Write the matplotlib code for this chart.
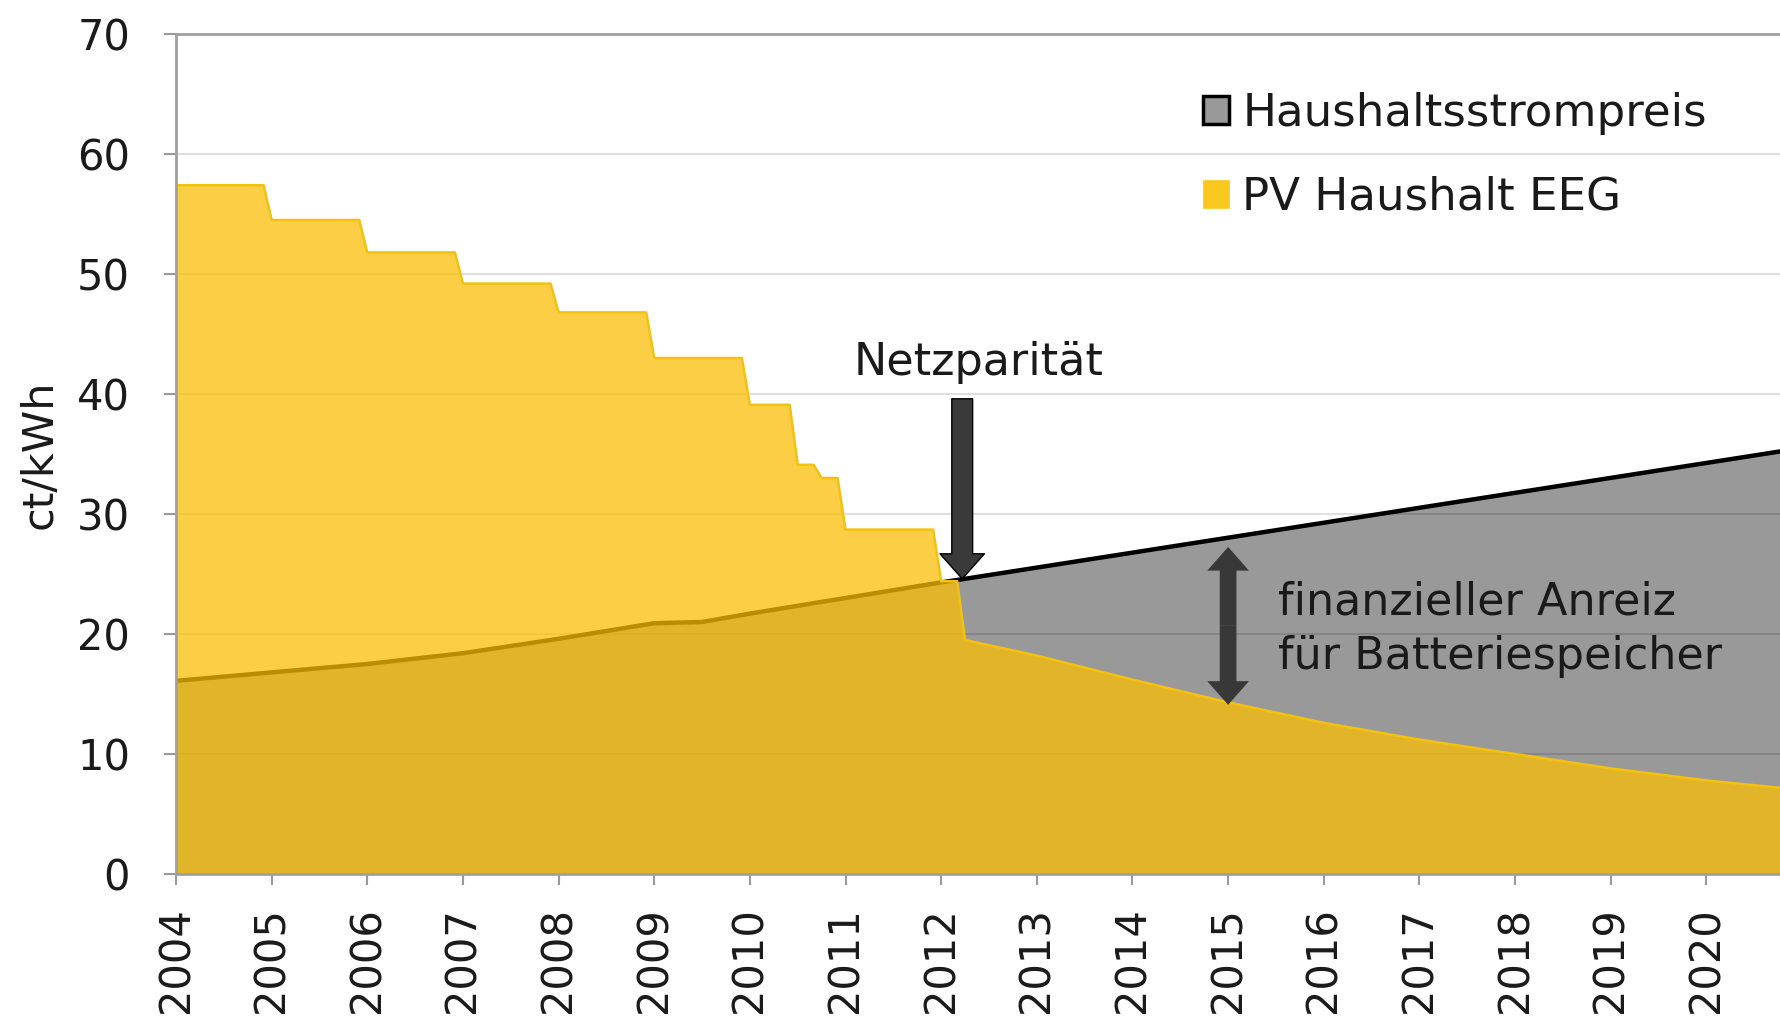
import numpy as np
import matplotlib
matplotlib.use("Agg")
import matplotlib.pyplot as plt
from matplotlib.patches import Patch

plt.rcParams['font.family'] = ['DejaVu Sans']

# ---------------- data ----------------
years = list(range(2004, 2021))
year_labels = [str(y) for y in years]

# EEG feed-in tariff (PV Haushalt EEG), ct/kWh: tariff change dates and rates
eeg_change = [2004.0, 2005.0, 2006.0, 2007.0, 2008.0, 2009.0, 2010.0, 2010.5, 2010.75, 2011.0, 2012.0, 2012.25]
eeg_rate   = [57.4,   54.5,   51.8,   49.2,   46.8,   43.0,   39.1,   34.1,   33.0,    28.7,   24.4,   19.5]
# projected decline after April 2012
eeg_future_years = [2012.25, 2013, 2014, 2015, 2016, 2017, 2018, 2019, 2020, 2021]
eeg_future_vals  = [19.5,    18.2, 16.2, 14.3, 12.6, 11.2, 10.0, 8.8,  7.8,  7.0]

# household electricity price (Haushaltsstrompreis), ct/kWh
sp_years = [2004, 2005, 2006, 2007, 2008, 2009, 2009.5, 2010, 2011, 2012, 2012.25, 2021]
sp_vals  = [16.1, 16.8, 17.5, 18.4, 19.6, 20.9, 21.0,   21.7, 23.0, 24.3, 24.6,    35.5]

ytick_vals = [0, 10, 20, 30, 40, 50, 60, 70]

# ---------------- build EEG step path (1-month transition between tariffs) ----------------
month = 1.0 / 12.0
ex, ey = [], []
for i in range(len(eeg_change) - 1):
    ex += [eeg_change[i], eeg_change[i + 1] - month]
    ey += [eeg_rate[i], eeg_rate[i]]
ex += eeg_future_years
ey += eeg_future_vals
ex = np.array(ex); ey = np.array(ey)

# ---------------- figure ----------------
W, H = 1780, 1024
fig = plt.figure(figsize=(W / 100, H / 100), dpi=100)
ax_left, ax_right, ax_top, ax_bot = 176, 1780, 34, 874
ax = fig.add_axes([ax_left / W, 1 - ax_bot / H, (ax_right - ax_left) / W, (ax_bot - ax_top) / H])

gray = '#999999'
yellow = (252 / 255, 190 / 255, 4 / 255)

ax.fill_between(sp_years, 0, sp_vals, color=gray, lw=0, zorder=1)
ax.plot(sp_years, sp_vals, color='black', lw=3.2, zorder=2, solid_joinstyle='round')
ax.fill_between(ex, 0, ey, color=yellow, alpha=0.74, lw=0, zorder=3)
ax.plot(ex, ey, color='#F4C20D', lw=1.8, zorder=4)

ax.set_xlim(2004, 2020.77)
ax.set_ylim(0, 70)

ax.set_yticks(ytick_vals)
ax.set_yticklabels([str(v) for v in ytick_vals])
ax.set_xticks(years)
ax.set_xticklabels(year_labels, rotation=90)

ax.yaxis.grid(True, color='black', alpha=0.13, lw=1.4)
ax.set_axisbelow(False)
for ln in ax.get_ygridlines():
    ln.set_zorder(5)

ax.spines['right'].set_visible(False)
for s in ['left', 'bottom', 'top']:
    ax.spines[s].set_color('#a0a0a0')
    ax.spines[s].set_linewidth(2.0)
    ax.spines[s].set_zorder(6)

ax.tick_params(axis='y', direction='out', length=9, width=1.5, color='#9a9a9a',
               labelsize=30, labelcolor='#1a1a1a', pad=24)
ax.tick_params(axis='x', direction='out', length=8, width=1.5, color='#9a9a9a',
               labelsize=30, labelcolor='#1a1a1a', pad=16)

ax.set_ylabel('ct/kWh', fontsize=31, color='#1a1a1a', labelpad=12)

# ---------------- annotations ----------------
txtc = '#1a1a1a'
ax.text(2012.39, 42.6, 'Netzparität', fontsize=32, color=txtc, ha='center', va='center', zorder=8)
ax.annotate('', xy=(2012.22, 24.6), xytext=(2012.22, 39.6),
            arrowprops=dict(arrowstyle='simple,head_length=18,head_width=32,tail_width=15',
                            mutation_scale=1, fc='#3a3a3a', ec='black', lw=1,
                            shrinkA=0, shrinkB=0), zorder=8)

mid = (27.25 + 14.1) / 2
for tip in (27.25, 14.1):
    ax.annotate('', xy=(2015.0, tip), xytext=(2015.0, mid),
                arrowprops=dict(arrowstyle='simple,head_length=17,head_width=30,tail_width=12',
                                mutation_scale=1, fc='#383838', ec='none', lw=0,
                                shrinkA=0, shrinkB=0), zorder=8)

ax.text(2015.52, 22.7, 'finanzieller Anreiz', fontsize=32, color=txtc, ha='left', va='center', zorder=8)
ax.text(2015.52, 18.1, 'für Batteriespeicher', fontsize=32, color=txtc, ha='left', va='center', zorder=8)

# ---------------- legend ----------------
handles = [Patch(facecolor=gray, edgecolor='black', linewidth=2.5),
           Patch(facecolor='#F8C81E', edgecolor='#F8C81E', linewidth=0.5)]
labels = ['Haushaltsstrompreis', 'PV Haushalt EEG']
leg = ax.legend(handles, labels, loc='upper left', bbox_to_anchor=(1203 / W, 1 - 92 / H),
                bbox_transform=fig.transFigure, frameon=False, fontsize=32.5,
                handlelength=0.57, handleheight=0.57, handletextpad=0.3,
                labelspacing=0.9, borderpad=0, borderaxespad=0)
for t in leg.get_texts():
    t.set_color(txtc)
leg.set_zorder(9)

fig.savefig('out.png', dpi=100)
